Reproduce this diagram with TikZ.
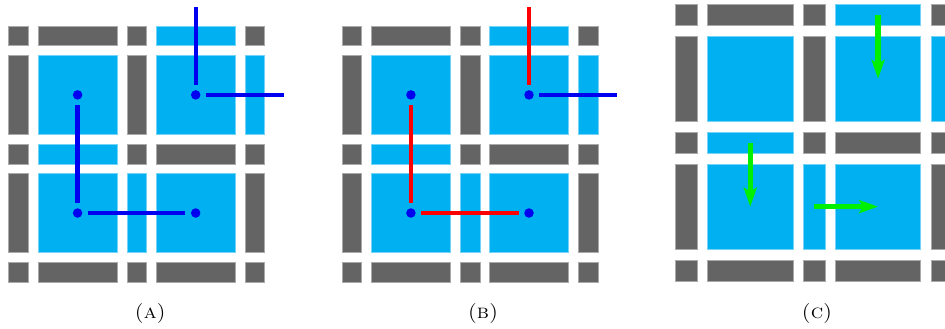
\documentclass[tikz,border=0pt]{standalone}
\usetikzlibrary{arrows.meta}
\definecolor{cellG}{HTML}{646464}
\definecolor{cellB}{HTML}{00B0F0}
\definecolor{dotblue}{HTML}{0000F0}
\definecolor{pathblue}{HTML}{0000F0}
\definecolor{pathred}{HTML}{FF0000}
\definecolor{pathgreen}{HTML}{00F000}
\newcommand{\cellgrid}[5]{%
  \foreach \pat [count=\r from 0] in {{G,G,G,B,G},{G,B,G,B,B},{G,B,G,G,G},{G,B,B,B,G},{G,G,G,G,G}} {
    \foreach \col [count=\c from 0] in \pat {
      \pgfmathsetmacro\xa{#1+floor((\c+1)/2)*(#3+#4)+floor(\c/2)*(#5+#4)}
      \pgfmathsetmacro\wa{#3+mod(\c,2)*(#5-#3)}
      \pgfmathsetmacro\ya{#2+floor((\r+1)/2)*(#3+#4)+floor(\r/2)*(#5+#4)}
      \pgfmathsetmacro\ha{#3+mod(\r,2)*(#5-#3)}
      \path[fill=cell\col, draw=cell\col!55!white, line width=0.5pt]
        (\xa,\ya) rectangle ++(\wa,\ha);
    }
  }
}
\begin{document}
\begin{tikzpicture}[x=1pt,y=-1pt,
  dot/.style={circle, fill=dotblue, inner sep=0pt, minimum size=9.5pt},
  link/.style={line width=4.4pt},
  bothgap/.style={shorten <=5.3pt, shorten >=5.3pt},
  startgap/.style={shorten <=5.3pt},
  move/.style={draw=pathgreen, line width=5.5pt, -{Stealth[length=19pt,width=13pt,inset=4pt]}},
  lbl/.style={inner sep=0pt, font=\fontsize{20}{24}\selectfont, xscale=1.05}]
\useasboundingbox (0,0) rectangle (945,329);
\fill[white] (0,0) rectangle (945,329);

% ---------- panel A ----------
\cellgrid{8.7}{26}{19.7}{9.8}{78.8}
\node[dot] (a1) at (77.6,94.9) {};
\node[dot] (a2) at (195.7,94.9) {};
\node[dot] (a3) at (77.6,213.0) {};
\node[dot] (a4) at (195.7,213.0) {};
\coordinate (aT) at (195.7,6.7);
\coordinate (aR) at (284.3,94.9);
\draw[link, draw=pathblue, bothgap] (a1) -- (a3);
\draw[link, draw=pathblue, bothgap] (a3) -- (a4);
\draw[link, draw=pathblue, startgap] (a2) -- (aT);
\draw[link, draw=pathblue, startgap] (a2) -- (aR);
\node[lbl] (la) at (150.3,313) {\textsc{(a)}};

% ---------- panel B ----------
\cellgrid{342}{26}{19.7}{9.8}{78.8}
\node[dot] (b1) at (410.9,94.9) {};
\node[dot] (b2) at (529.0,94.9) {};
\node[dot] (b3) at (410.9,213.0) {};
\node[dot] (b4) at (529.0,213.0) {};
\coordinate (bT) at (529.0,6.7);
\coordinate (bR) at (617.4,94.9);
\draw[link, draw=pathred, bothgap] (b1) -- (b3);
\draw[link, draw=pathred, bothgap] (b3) -- (b4);
\draw[link, draw=pathred, startgap] (b2) -- (bT);
\draw[link, draw=pathblue, startgap] (b2) -- (bR);
\node[lbl] (lb) at (483,313) {\textsc{(b)}};

% ---------- panel C ----------
\begin{scope}
\clip (660,0) rectangle (945,329);
\cellgrid{675.7}{4.3}{21.3}{10.6}{85.3}
\end{scope}
\coordinate (c1s) at (878.05,14.95);
\coordinate (c1e) at (878.05,78.85);
\coordinate (c2s) at (750.25,142.75);
\coordinate (c2e) at (750.25,206.65);
\coordinate (c3s) at (814.15,206.65);
\coordinate (c3e) at (878.05,206.65);
\draw[move] (c1s) -- (c1e);
\draw[move] (c2s) -- (c2e);
\draw[move] (c3s) -- (c3e);
\node[lbl] (lc) at (817,313) {\textsc{(c)}};
\end{tikzpicture}
\end{document}
